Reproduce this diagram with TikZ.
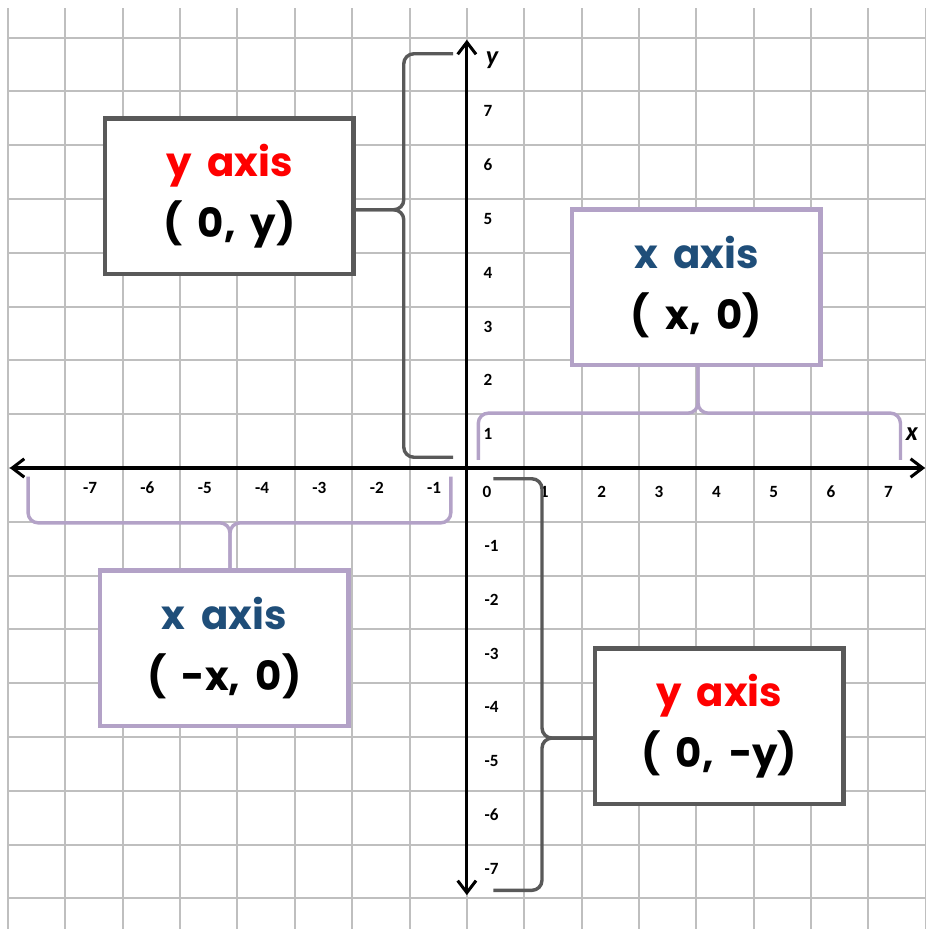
\documentclass[tikz,border=0pt]{standalone}
\usepackage{fontspec}
\setmainfont{Carlito}
\newfontfamily\boxfont{Poppins}[WordSpace=1.8]
\usetikzlibrary{arrows.meta}

\definecolor{gridgray}{HTML}{BFBFBF}
\definecolor{boxgray}{HTML}{595959}
\definecolor{boxlilac}{HTML}{B3A2C7}
\definecolor{axisred}{HTML}{FF0000}
\definecolor{axisnavy}{HTML}{1F4E79}

\begin{document}
\begin{tikzpicture}[x=1cm,y=0.938cm]
\tikzset{
  gridline/.style={gridgray,line width=1pt},
  axisline/.style={black,line width=1.5pt,{Straight Barb[length=2.1mm,width=3.2mm]}-{Straight Barb[length=2.1mm,width=3.2mm]}},
  ticklabel/.style={font=\fontsize{8.5}{10}\selectfont\bfseries,inner sep=0pt},
  axislabel/.style={font=\fontsize{13}{15}\selectfont\bfseries\itshape,inner sep=0pt},
  infobox/.style={draw,line width=2.2pt,fill=white,minimum width=4.33cm,minimum height=2.71cm,
    align=center,font=\boxfont\bfseries\fontsize{20}{30}\selectfont},
  graybox/.style={infobox,draw=boxgray},
  lilacbox/.style={infobox,draw=boxlilac},
  graybrace/.style={boxgray,line width=1.7pt,rounded corners=5pt},
  lilacbrace/.style={boxlilac,line width=1.7pt,rounded corners=5pt}
}
\useasboundingbox (-8.14,-8.569) rectangle (8.004,8.699);
% grid
\foreach \i in {-8,...,8} {
  \draw[gridline] (\i,8.55) -- (\i,-8.569);
  \draw[gridline] (-8,\i) -- (8.004,\i);
}
% axes
\draw[axisline] (-7.97,0) -- (7.99,0);
\draw[axisline] (0,-7.94) -- (0,7.96);
\node[axislabel] (xlab) at (7.76,0.63) {x};
\node[axislabel] (ylab) at (0.44,7.58) {y};
% tick labels
\foreach \k in {0,...,7}
  \node[ticklabel] (xt\k) at (\k+0.35,-0.45) {\k};
\foreach \k in {1,...,7} {
  \node[ticklabel] (xn\k) at (-\k+0.43,-0.37) {-\k};
  \node[ticklabel] (yt\k) at (0.37,\k-0.37) {\k};
  \node[ticklabel] (yn\k) at (0.43,-\k-0.45) {-\k};
}
% boxes
\node[graybox] (yboxpos) at (-4.14,5.05) {\textcolor{axisred}{y axis}\\( 0, y)};
\node[lilacbox] (xboxpos) at (4.00,3.36) {\textcolor{axisnavy}{x axis}\\( x, 0)};
\node[graybox] (yboxneg) at (4.40,-4.80) {\textcolor{axisred}{y axis}\\( 0, -y)};
\node[lilacbox] (xboxneg) at (-4.23,-3.35) {\textcolor{axisnavy}{x axis}\\( -x, 0)};
% braces
\coordinate (b1top) at (-0.24,7.70);
\coordinate (b1mid) at (-1.10,4.80);
\coordinate (b1bot) at (-0.24,0.20);
\draw[graybrace] (b1top) -- (b1top -| b1mid) -- (b1mid) -- (yboxpos.east |- b1mid);
\draw[graybrace] (yboxpos.east |- b1mid) -- (b1mid) -- (b1bot -| b1mid) -- (b1bot);
\coordinate (b2left) at (0.20,0.15);
\coordinate (b2mid) at (4.03,1.02);
\coordinate (b2right) at (7.56,0.15);
\draw[lilacbrace] (b2left) -- (b2left |- b2mid) -- (b2mid) -- (xboxpos.south -| b2mid);
\draw[lilacbrace] (xboxpos.south -| b2mid) -- (b2mid) -- (b2right |- b2mid) -- (b2right);
\coordinate (b3top) at (0.46,-0.20);
\coordinate (b3mid) at (1.31,-5.02);
\coordinate (b3bot) at (0.46,-7.85);
\draw[graybrace] (b3top) -- (b3top -| b3mid) -- (b3mid) -- (yboxneg.west |- b3mid);
\draw[graybrace] (yboxneg.west |- b3mid) -- (b3mid) -- (b3bot -| b3mid) -- (b3bot);
\coordinate (b4left) at (-7.65,-0.16);
\coordinate (b4mid) at (-4.13,-1.02);
\coordinate (b4right) at (-0.28,-0.16);
\draw[lilacbrace] (b4left) -- (b4left |- b4mid) -- (b4mid) -- (xboxneg.north -| b4mid);
\draw[lilacbrace] (xboxneg.north -| b4mid) -- (b4mid) -- (b4right |- b4mid) -- (b4right);
\end{tikzpicture}
\end{document}
